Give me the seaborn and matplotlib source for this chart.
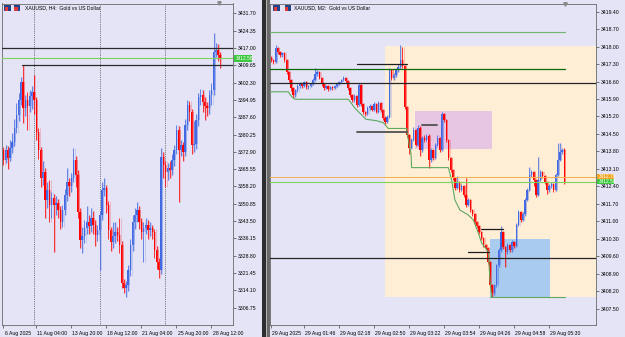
import numpy as np
import pandas as pd
import matplotlib
matplotlib.use("Agg")
import matplotlib.pyplot as plt
import matplotlib.transforms as mtrans
from matplotlib.patches import Rectangle, Polygon
import seaborn as sns

# ---------------- H4 panel data ----------------
h4_first_open = 3373.7
h4_close = [3369.4, 3373.7, 3370.3, 3374.5, 3377.1, 3383.0, 3388.5, 3394.9, 3402.6, 3391.5,
            3394.9, 3392.4, 3396.6, 3398.3, 3394.9, 3381.3, 3373.7, 3361.8, 3364.3, 3352.5,
            3356.7, 3350.3, 3353.3, 3350.3, 3351.2, 3348.2, 3343.1, 3348.2, 3354.6, 3360.1,
            3358.4, 3361.8, 3369.4, 3363.1, 3347.4, 3335.5, 3337.2, 3340.6, 3343.1, 3341.4,
            3344.8, 3341.8, 3337.6, 3339.7, 3346.1, 3356.7, 3357.6, 3350.3, 3339.7, 3334.6,
            3337.2, 3338.9, 3337.6, 3333.4, 3317.2, 3315.1, 3316.4, 3322.8, 3333.4, 3343.1,
            3346.1, 3348.2, 3343.1, 3338.9, 3340.6, 3341.8, 3339.7, 3340.6, 3338.9, 3331.3,
            3326.1, 3322.8, 3370.7, 3367.3, 3364.3, 3366.0, 3365.2, 3369.4, 3373.7, 3382.2,
            3373.7, 3375.8, 3372.8, 3384.3, 3392.8, 3389.8, 3375.8, 3376.2, 3386.4, 3396.2,
            3397.0, 3394.1, 3392.4, 3391.5, 3397.0, 3399.2, 3415.3, 3416.2, 3414.0, 3412.58]
h4_high = [3375.0, 3376.0, 3375.5, 3378.0, 3381.0, 3387.0, 3393.5, 3398.0, 3404.5, 3409.65,
           3397.0, 3398.5, 3399.0, 3401.0, 3405.5, 3396.0, 3383.0, 3375.0, 3369.0, 3366.0,
           3360.0, 3361.0, 3356.0, 3355.0, 3354.0, 3353.0, 3350.0, 3350.5, 3357.0, 3366.0,
           3362.0, 3364.0, 3374.5, 3371.0, 3365.0, 3349.0, 3341.0, 3344.0, 3350.0, 3346.0,
           3349.0, 3348.0, 3344.0, 3342.0, 3348.0, 3360.0, 3362.0, 3359.0, 3352.0, 3341.0,
           3343.0, 3343.0, 3341.0, 3345.0, 3335.0, 3319.0, 3318.0, 3325.0, 3336.0, 3346.0,
           3349.0, 3351.6, 3350.0, 3345.0, 3343.0, 3345.0, 3344.0, 3343.0, 3342.0, 3340.0,
           3333.0, 3328.0, 3374.5, 3373.0, 3369.0, 3368.0, 3369.0, 3372.0, 3376.0, 3384.5,
           3384.0, 3378.0, 3377.0, 3387.0, 3395.0, 3394.5, 3391.0, 3386.0, 3389.0, 3398.0,
           3399.5, 3399.0, 3396.0, 3394.0, 3399.0, 3402.0, 3423.4, 3419.0, 3418.5, 3415.5]
h4_low = [3367.5, 3368.0, 3365.5, 3369.0, 3372.5, 3375.5, 3381.0, 3386.0, 3393.0, 3385.0,
          3388.0, 3382.0, 3390.0, 3391.0, 3389.0, 3378.0, 3370.0, 3358.0, 3359.0, 3345.0,
          3349.0, 3343.0, 3345.0, 3330.4, 3346.0, 3345.0, 3340.0, 3341.0, 3346.0, 3352.0,
          3354.0, 3356.0, 3360.0, 3358.0, 3345.0, 3332.0, 3330.0, 3334.0, 3338.0, 3338.0,
          3339.0, 3338.0, 3333.0, 3335.0, 3322.8, 3344.0, 3354.0, 3347.0, 3336.0, 3331.0,
          3332.0, 3334.0, 3335.0, 3330.0, 3315.0, 3313.0, 3311.3, 3314.0, 3320.0, 3331.0,
          3340.0, 3343.0, 3340.0, 3336.0, 3326.0, 3338.0, 3336.0, 3337.0, 3336.0, 3328.0,
          3323.0, 3319.5, 3321.0, 3362.0, 3358.0, 3361.0, 3362.0, 3363.0, 3367.0, 3372.0,
          3351.6, 3371.0, 3369.0, 3371.0, 3382.0, 3386.0, 3372.0, 3373.0, 3374.0, 3384.0,
          3393.0, 3390.0, 3386.5, 3388.0, 3389.0, 3393.0, 3397.0, 3413.0, 3411.5, 3408.5]
h4_yticks = [3431.70, 3424.35, 3417.00, 3409.65, 3402.30, 3394.95, 3387.60, 3380.25, 3372.90,
             3365.55, 3358.20, 3350.85, 3343.50, 3336.15, 3328.80, 3321.45, 3314.10, 3306.75]
h4_xtick_bars = [0, 15, 31, 47, 63, 79, 95]
h4_xtick_labels = ["6 Aug 2025", "11 Aug 04:00", "13 Aug 20:00", "18 Aug 12:00",
                   "21 Aug 04:00", "25 Aug 20:00", "28 Aug 12:00"]
h4_week_bars = [14, 44, 74]
h4_level_full = 3417.00
h4_level_high = 3409.65
h4_level_high_start = 8.5

bid_price = 3412.58
ask_price = 3412.78

# ---------------- M2 panel data ----------------
m2_first_open = 3417.54
m2_close = [3417.46, 3417.38, 3417.95, 3417.78, 3417.66, 3417.74, 3417.46, 3416.98, 3416.66, 3416.34,
            3416.06, 3416.26, 3416.42, 3416.50, 3416.42, 3416.58, 3416.38, 3416.42, 3416.50, 3416.66,
            3416.90, 3416.98, 3416.74, 3416.50, 3416.34, 3416.42, 3416.30, 3416.38, 3416.34, 3416.42,
            3416.50, 3416.58, 3416.66, 3416.74, 3416.62, 3416.34, 3416.06, 3415.86, 3416.02, 3415.66,
            3416.46, 3415.70, 3415.38, 3415.30, 3415.54, 3415.62, 3415.46, 3415.70, 3415.38, 3415.74,
            3415.46, 3415.14, 3414.98, 3415.18, 3417.06, 3416.74, 3416.86, 3417.06, 3417.18, 3417.46,
            3417.22, 3415.58, 3414.46, 3413.94, 3414.26, 3414.66, 3414.06, 3414.74, 3413.85, 3414.34,
            3414.26, 3414.42, 3413.45, 3413.85, 3413.53, 3414.06, 3414.34, 3413.85, 3415.30, 3415.06,
            3414.26, 3413.53, 3413.05, 3412.73, 3412.33, 3412.57, 3412.25, 3412.41, 3412.05, 3411.65,
            3411.85, 3411.45, 3411.29, 3410.97, 3410.81, 3410.57, 3410.33, 3410.05, 3409.93, 3409.36,
            3408.44, 3408.12, 3408.44, 3409.24, 3409.84, 3410.57, 3409.97, 3409.76, 3410.05, 3409.84,
            3410.17, 3410.01, 3410.85, 3411.37, 3411.05, 3411.29, 3411.85, 3412.25, 3412.85, 3412.97,
            3412.65, 3412.05, 3412.65, 3412.97, 3412.81, 3412.57, 3412.25, 3412.41, 3412.49, 3412.25,
            3412.85, 3413.45, 3413.77, 3413.85, 3412.58]
m2_high = [3417.62, 3417.52, 3418.07, 3417.98, 3417.84, 3417.80, 3417.78, 3417.50, 3417.02, 3416.70,
           3416.40, 3416.32, 3416.50, 3416.58, 3416.56, 3416.64, 3416.62, 3416.48, 3416.56, 3416.74,
           3417.14, 3417.06, 3417.02, 3416.78, 3416.54, 3416.48, 3416.46, 3416.44, 3416.42, 3416.48,
           3416.56, 3416.64, 3416.72, 3416.82, 3416.78, 3416.66, 3416.38, 3416.12, 3416.10, 3416.06,
           3416.54, 3416.50, 3415.76, 3415.44, 3415.62, 3415.70, 3415.68, 3415.78, 3415.74, 3415.82,
           3415.78, 3415.50, 3415.20, 3415.26, 3417.14, 3417.10, 3416.94, 3417.14, 3417.30, 3418.07,
           3417.99, 3417.26, 3415.62, 3414.50, 3414.34, 3414.78, 3414.70, 3414.86, 3414.80, 3414.42,
           3414.46, 3414.50, 3414.48, 3413.92, 3413.90, 3414.14, 3414.44, 3414.38, 3415.38, 3415.34,
           3415.10, 3414.30, 3413.58, 3413.10, 3412.78, 3412.80, 3412.62, 3412.48, 3412.46, 3412.73,
           3411.92, 3411.90, 3411.50, 3411.34, 3411.02, 3410.86, 3410.62, 3410.38, 3410.10, 3409.98,
           3409.40, 3408.50, 3408.50, 3409.30, 3409.92, 3410.81, 3410.62, 3410.02, 3410.12, 3410.10,
           3410.24, 3410.22, 3410.92, 3411.44, 3411.42, 3411.36, 3411.92, 3412.32, 3413.17, 3413.06,
           3413.02, 3412.70, 3413.57, 3413.04, 3413.02, 3412.86, 3412.62, 3412.48, 3412.56, 3412.54,
           3412.92, 3414.14, 3414.14, 3413.94, 3413.92]
m2_low = [3417.38, 3417.30, 3417.34, 3417.70, 3417.60, 3417.60, 3417.40, 3416.90, 3416.58, 3416.24,
          3415.94, 3416.00, 3416.20, 3416.36, 3416.34, 3416.38, 3416.30, 3416.32, 3416.38, 3416.46,
          3416.62, 3416.84, 3416.70, 3416.44, 3416.28, 3416.30, 3416.22, 3416.26, 3416.28, 3416.30,
          3416.38, 3416.46, 3416.54, 3416.62, 3416.56, 3416.28, 3416.00, 3415.78, 3415.80, 3415.58,
          3415.62, 3415.62, 3415.30, 3415.22, 3415.26, 3415.48, 3415.40, 3415.42, 3415.32, 3415.34,
          3415.38, 3415.06, 3414.90, 3414.94, 3415.12, 3416.66, 3416.68, 3416.80, 3417.00, 3417.12,
          3417.14, 3415.50, 3414.38, 3413.70, 3413.88, 3414.20, 3414.00, 3414.00, 3413.60, 3413.78,
          3414.18, 3414.20, 3413.13, 3413.38, 3413.46, 3413.48, 3414.00, 3413.78, 3413.80, 3414.98,
          3414.18, 3413.46, 3412.98, 3412.66, 3412.26, 3412.28, 3412.18, 3412.20, 3411.98, 3411.58,
          3411.60, 3411.38, 3411.22, 3410.90, 3410.74, 3410.50, 3410.26, 3409.98, 3409.86, 3409.28,
          3408.36, 3407.96, 3408.06, 3408.38, 3409.18, 3409.78, 3409.90, 3409.16, 3409.70, 3409.76,
          3409.78, 3409.94, 3409.96, 3410.80, 3410.98, 3411.00, 3411.22, 3411.80, 3412.20, 3412.78,
          3412.40, 3411.96, 3412.00, 3412.60, 3412.74, 3412.50, 3412.10, 3412.18, 3412.34, 3412.18,
          3412.20, 3412.80, 3413.40, 3413.70, 3412.50]
m2_yticks = [3419.40, 3418.70, 3418.00, 3417.30, 3416.60, 3415.90, 3415.20, 3414.50, 3413.80,
             3413.10, 3412.40, 3411.70, 3411.00, 3410.30, 3409.60, 3408.90, 3408.20, 3407.50]
m2_xtick_bars = [0, 15, 31, 47, 63, 79, 95, 111, 127]
m2_xtick_labels = ["29 Aug 2025", "29 Aug 01:46", "29 Aug 02:18", "29 Aug 02:50", "29 Aug 03:22",
                   "29 Aug 03:54", "29 Aug 04:26", "29 Aug 04:58", "29 Aug 05:30"]

# zones: (start bar, end bar, low price, high price)
zone_range = (52.2, 300.0, 3407.96, 3418.03)
zone_supply = (65.8, 100.8, 3413.90, 3415.43)
zone_demand = (100.0, 127.4, 3407.95, 3410.27)

# level lines: (start bar, end bar, price)
lvl_top_green = (-1.0, 134.5, 3418.60)
lvl_dark_green = (-1.0, 134.5, 3417.09)
lvl_black_full = [3416.53, 3409.52]
seg_black = [(39.0, 62.0, 3417.29), (96.0, 105.8, 3410.70), (89.8, 99.7, 3409.75)]
seg_gray = [(39.0, 62.0, 3414.59), (69.0, 76.0, 3414.87)]
lvl_bottom_green = (100.0, 134.5, 3407.95)

# trailing stepped line
step_bar = [-0.6, 7.8, 9.4, 10.9, 35.3, 38.3, 41.4, 43.3, 48.2, 51.3, 53.5, 61.9, 62.7, 63.9,
            64.2, 81.0, 82.5, 84.0, 86.3, 90.1, 92.4, 94.7, 96.2, 99.3, 100.0, 100.8]
step_price = [3416.19, 3416.19, 3415.99, 3415.89, 3415.89, 3415.53, 3415.26, 3415.09, 3415.03,
              3414.95, 3414.72, 3414.72, 3414.26, 3413.72, 3413.15, 3413.15, 3412.65, 3411.85,
              3411.45, 3411.25, 3411.05, 3410.53, 3410.13, 3409.77, 3408.64, 3407.96]

# ---------------- style ----------------
BG = "#E4E4F6"
BULL = "#4169E1"
BEAR = "#FF0000"
sns.set_style("white")
plt.rcParams["font.family"] = ["Liberation Sans", "DejaVu Sans"]
FS = 3.7

W, H = 625, 337
fig = plt.figure(figsize=(W / 100, H / 100), dpi=100)
fig.patch.set_facecolor(BG)


def rect(x0, y0, x1, y1):
    return [x0 / W, 1 - y1 / H, (x1 - x0) / W, (y1 - y0) / H]


def candles(ax, first_open, close, high, low):
    c = np.array(close)
    o = np.concatenate([[first_open], c[:-1]])
    h = np.maximum(np.array(high), np.maximum(o, c))
    l = np.minimum(np.array(low), np.minimum(o, c))
    x = np.arange(len(c))
    df = pd.DataFrame({"x": x, "o": o, "c": c, "h": h, "l": l})
    up = df.c >= df.o
    cols = np.where(up, BULL, BEAR)
    bot = np.minimum(df.o, df.c)
    span = (df.h - df.l).max()
    hgt = np.maximum(np.abs(df.c - df.o), span * 0.004)
    ax.bar(df.x + 0.55, hgt, bottom=bot, width=0.75, color=cols, alpha=0.28, linewidth=0, zorder=3)
    ax.vlines(df.x + 0.55, df.l, df.h, colors=cols, alpha=0.28, lw=0.5, zorder=3)
    ax.vlines(df.x, df.l, df.h, colors=cols, lw=0.55, zorder=4)
    ax.bar(df.x, hgt, bottom=bot, width=0.6, color=cols, linewidth=0, zorder=5)


def style_axes(ax, yticks, xbars, xlabels):
    ax.set_facecolor(BG)
    for s in ax.spines.values():
        s.set_color("#6A6A6A")
        s.set_linewidth(0.6)
    ax.yaxis.tick_right()
    ax.set_yticks(yticks)
    ax.set_yticklabels([f"{v:.2f}" for v in yticks])
    ax.tick_params(axis="y", direction="out", length=2.5, width=0.5, pad=1.2,
                   labelsize=FS, colors="#444444", labelcolor="black", right=True, left=False)
    ax.set_xticks(xbars)
    ax.set_xticklabels(xlabels, ha="left")
    ax.tick_params(axis="x", direction="out", length=2.5, width=0.5, pad=1.5,
                   labelsize=FS, colors="#444444", labelcolor="black", bottom=True)
    off = mtrans.ScaledTranslation(1.2 / 100, 0, fig.dpi_scale_trans)
    for lb in ax.get_xticklabels():
        lb.set_transform(lb.get_transform() + off)
    ax.set_xlabel("")
    ax.set_ylabel("")
    ax.grid(False)


def hseg(ax, x0, x1, y, color, lw, z=6):
    sns.lineplot(x=[x0, x1], y=[y, y], ax=ax, color=color, lw=lw, zorder=z,
                 estimator=None, sort=False, legend=False)


# ---------------- left (H4) ----------------
axL = fig.add_axes(rect(2, 3.5, 232.5, 325))
axL.set_xlim(-0.6, 104.65)
axL.set_ylim(3299.39, 3435.89)
for wb in h4_week_bars:
    axL.axvline(wb, color="#555555", lw=0.6, ls=(0, (1, 1.2)), zorder=2)
candles(axL, h4_first_open, h4_close, h4_high, h4_low)
hseg(axL, -1, 120, h4_level_full, "#2A2A2A", 0.9)
hseg(axL, h4_level_high_start, 120, h4_level_high, "#2A2A2A", 0.9)
hseg(axL, -1, 120, ask_price, "#F5B04A", 0.7)
hseg(axL, -1, 120, bid_price, "#7CD35A", 0.8)
style_axes(axL, h4_yticks, h4_xtick_bars, h4_xtick_labels)
axL.set_xlim(-0.6, 104.65)
axL.set_ylim(3299.39, 3435.89)
axL.plot([98.6], [3435.89], marker="v", color="#8A8A8A", ms=2.5, clip_on=False, zorder=10)

# ---------------- right (M2) ----------------
axR = fig.add_axes(rect(270, 3.5, 596, 325))
axR.set_xlim(-0.55, 148.5)
axR.set_ylim(3406.84, 3419.73)
for (x0, x1, y0, y1), col in [(zone_range, "#FFEED6"), (zone_supply, "#E6C6E3"), (zone_demand, "#A9CBEF")]:
    axR.add_patch(Rectangle((x0, y0), x1 - x0, y1 - y0, facecolor=col, edgecolor="none", zorder=1))
candles(axR, m2_first_open, m2_close, m2_high, m2_low)
sns.lineplot(x=step_bar, y=step_price, ax=axR, color="#5FA85F", lw=0.8, zorder=6,
             estimator=None, sort=False, legend=False)
hseg(axR, *lvl_top_green, "#6DB56D", 0.8)
hseg(axR, *lvl_dark_green, "#0B6B0B", 0.9)
for p in lvl_black_full:
    hseg(axR, -1, 200, p, "#252525", 0.9)
for x0, x1, p in seg_black:
    hseg(axR, x0, x1, p, "#1E1E1E", 0.9, 7)
for x0, x1, p in seg_gray:
    hseg(axR, x0, x1, p, "#505050", 1.3, 7)
hseg(axR, *lvl_bottom_green, "#5FA85F", 0.8)
hseg(axR, -1, 200, ask_price, "#F5B04A", 0.7)
hseg(axR, -1, 200, bid_price, "#7CD35A", 0.8)
style_axes(axR, m2_yticks, m2_xtick_bars, m2_xtick_labels)
axR.set_xlim(-0.55, 148.5)
axR.set_ylim(3406.84, 3419.73)
axR.plot([134.5], [3419.73], marker="v", color="#8A8A8A", ms=2.5, clip_on=False, zorder=10)

# ---------------- price boxes on the scales ----------------
def pixbox(x0, y0, x1, y1, fc, txt):
    fig.add_artist(Rectangle((x0 / W, 1 - y1 / H), (x1 - x0) / W, (y1 - y0) / H,
                             transform=fig.transFigure, facecolor=fc, edgecolor="none", zorder=20))
    fig.text((x0 + 1.5) / W, 1 - ((y0 + y1) / 2) / H, txt, fontsize=3.4, color="white",
             va="center", ha="left", zorder=21)

pixbox(234, 55.3, 252, 61.7, "#3CC83C", f"{bid_price:.2f}")
pixbox(597, 174.3, 614, 178.6, "#F5A623", f"{ask_price:.2f}")
pixbox(597, 178.6, 614, 183.6, "#3CC83C", f"{bid_price:.2f}")

# ---------------- window separator ----------------
for x0, x1, c in [(261.5, 265.5, "#2E2E2E"), (265.5, 266.7, "#B4B4B4"), (266.7, 269.6, "#6A6A6A")]:
    fig.add_artist(Rectangle((x0 / W, 0), (x1 - x0) / W, 1, transform=fig.transFigure,
                             facecolor=c, edgecolor="none", zorder=20))

# ---------------- titles with icons ----------------
def icon(x0):
    fig.add_artist(Rectangle((x0 / W, 1 - 11 / H), 6.5 / W, 6 / H, transform=fig.transFigure,
                             facecolor="#24428A", edgecolor="none", zorder=20))
    fig.add_artist(Rectangle(((x0 + 0.5) / W, 1 - 10.5 / H), 3.2 / W, 3.5 / H, transform=fig.transFigure,
                             facecolor="#E23A3A", edgecolor="none", zorder=21))

for x0 in (4, 14):
    icon(x0)
fig.text(25 / W, 1 - 7.8 / H, "XAUUSD, H4:  Gold vs US Dollar", fontsize=FS, va="center", ha="left",
         color="black", zorder=22)
for x0 in (273, 284.5):
    icon(x0)
fig.text(293.5 / W, 1 - 7.8 / H, "XAUUSD, M2:  Gold vs US Dollar", fontsize=FS, va="center", ha="left",
         color="black", zorder=22)

fig.savefig("out.png", dpi=100, facecolor=BG)
